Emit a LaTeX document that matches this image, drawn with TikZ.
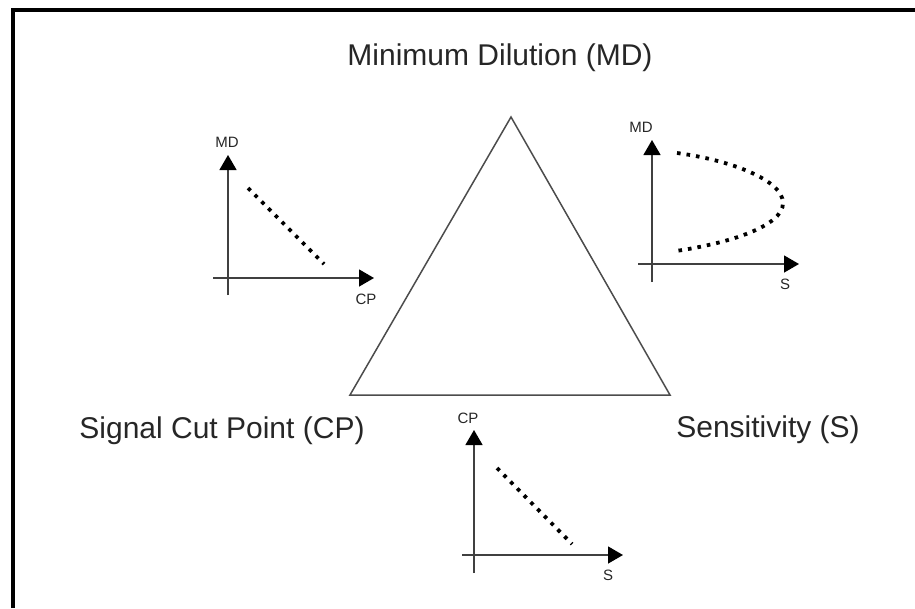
\documentclass[tikz,border=0pt]{standalone}
\usepackage{fontspec}
\setmainfont{Liberation Sans}
\usetikzlibrary{arrows.meta}
\begin{document}
\begin{tikzpicture}[x=1pt,y=-1pt,
  axis/.style={line width=1.4pt,draw=black!75,-{Triangle[length=15pt,width=17pt,fill=black,color=black]}},
  dotline/.style={line width=3.8pt,dash pattern=on 3.6pt off 6pt,black},
  big/.style={font=\fontsize{30}{34}\selectfont,anchor=base,text=black!85},
  small/.style={font=\fontsize{15}{17}\selectfont,anchor=base,text=black!85}]
\useasboundingbox (0,0) rectangle (915,608);
% frame
\coordinate (fr1) at (13,608);
\coordinate (fr2) at (13,10);
\coordinate (fr3) at (915,10);
\draw[line width=3.6pt,line join=miter] (fr1) -- (fr2) -- (fr3);
% triangle
\coordinate (apex) at (511,117);
\coordinate (bl) at (350,395);
\coordinate (br) at (670,395);
\draw[line width=1.5pt,draw=black!70,line join=miter] (apex) -- (br) -- (bl) -- cycle;
% main labels
\node[big] (md) at (500,65) {Minimum Dilution (MD)};
\node[big] (cp) at (222,438) {Signal Cut Point (CP)};
\node[big] (s) at (768,437) {Sensitivity (S)};
% plot 1
\coordinate (p1yb) at (228,295);
\coordinate (p1yt) at (228,155);
\coordinate (p1xl) at (213,278);
\coordinate (p1xr) at (374,278);
\draw[axis] (p1yb) -- (p1yt);
\draw[axis] (p1xl) -- (p1xr);
\node[small] (p1md) at (227,147) {MD};
\node[small] (p1cp) at (366,304) {CP};
\coordinate (p1a) at (248,188);
\coordinate (p1b) at (324,264);
\draw[dotline] (p1a) -- (p1b);
% plot 2
\coordinate (p2yb) at (652,282);
\coordinate (p2yt) at (652,140);
\coordinate (p2xl) at (638,264);
\coordinate (p2xr) at (799,264);
\draw[axis] (p2yb) -- (p2yt);
\draw[axis] (p2xl) -- (p2xr);
\node[small] (p2md) at (641,132) {MD};
\node[small] (p2s) at (785,289) {S};
\coordinate (p2a) at (677,153);
\coordinate (p2v) at (783,203);
\coordinate (p2b) at (676,251);
\draw[dotline] (p2a) .. controls (730,160) and (783,180) .. (p2v)
  .. controls (783,226) and (730,243) .. (p2b);
% plot 3
\coordinate (p3yb) at (474,573);
\coordinate (p3yt) at (474,430);
\coordinate (p3xl) at (462,555);
\coordinate (p3xr) at (623,555);
\draw[axis] (p3yb) -- (p3yt);
\draw[axis] (p3xl) -- (p3xr);
\node[small] (p3cp) at (468,423) {CP};
\node[small] (p3s) at (608,580) {S};
\coordinate (p3a) at (497,468);
\coordinate (p3b) at (572,544);
\draw[dotline] (p3a) -- (p3b);
\end{tikzpicture}
\end{document}
